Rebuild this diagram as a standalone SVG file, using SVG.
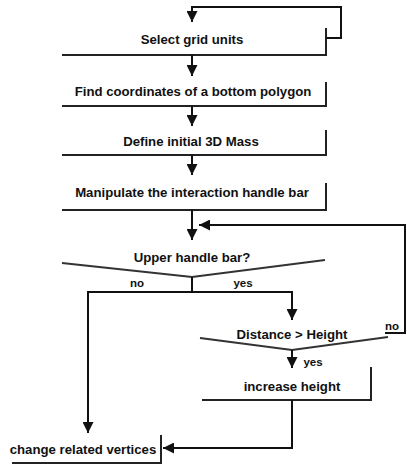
<svg xmlns="http://www.w3.org/2000/svg" width="407" height="467" viewBox="0 0 407 467">
<defs>
<marker id="ah" viewBox="0 0 10 10" refX="10" refY="5" markerWidth="5.5" markerHeight="5.5" orient="auto" markerUnits="strokeWidth">
<path d="M0,0 L10,5 L0,10 Z" fill="#111"/>
</marker>
<style>
text{font-family:"Liberation Sans",Arial,sans-serif;font-weight:bold;font-size:13.2px;fill:#111;text-anchor:middle}
.edge{fill:none;stroke:#222;stroke-width:2}
.v{fill:none;stroke:#333;stroke-width:2.2}
.c{fill:none;stroke:#111;stroke-width:2}
.lbl{font-size:11.5px}
</style>
</defs>
<rect width="407" height="467" fill="#fff"/>
<g id="n1"><path class="edge" d="M62,55 H326 V28"/><text x="192" y="44">Select grid units</text></g>
<g id="n2"><path class="edge" d="M62,106 H326 V82"/><text x="193" y="96">Find coordinates of a bottom polygon</text></g>
<g id="n3"><path class="edge" d="M62,155 H326 V130"/><text x="191" y="146">Define initial 3D Mass</text></g>
<g id="n4"><path class="edge" d="M62,210 H326 V183"/><text x="192" y="197">Manipulate the interaction handle bar</text></g>
<g id="d1"><path class="v" d="M62,263 L192,277 L325,260"/><text x="192" y="262">Upper handle bar?</text></g>
<g id="d2"><path class="v" d="M200,338 L292,350 L388,337"/><text x="292" y="339">Distance &gt; Height</text></g>
<g id="n5"><path class="edge" d="M202,400 H371 V367"/><text x="292" y="391">increase height</text></g>
<g id="n6"><path class="edge" d="M12,463 H161 V435"/><text x="83" y="454">change related vertices</text></g>
<g id="connectors">
<path class="c" d="M326,38 H341 V7 H192 V22" marker-end="url(#ah)"/>
<path class="c" d="M192,55 V76" marker-end="url(#ah)"/>
<path class="c" d="M192,106 V126" marker-end="url(#ah)"/>
<path class="c" d="M192,155 V175" marker-end="url(#ah)"/>
<path class="c" d="M192,210 V240" marker-end="url(#ah)"/>
<path class="c" d="M192,277 V292 M88,292 H292"/>
<path class="c" d="M88,291 V433" marker-end="url(#ah)"/>
<path class="c" d="M292,291 V320" marker-end="url(#ah)"/>
<path class="c" d="M385,333 H405 V225 H199" marker-end="url(#ah)"/>
<path class="c" d="M292,350 V368" marker-end="url(#ah)"/>
<path class="c" d="M292,400 V448 H163" marker-end="url(#ah)"/>
<text class="lbl" x="137" y="287">no</text>
<text class="lbl" x="243" y="287">yes</text>
<text class="lbl" x="392" y="330">no</text>
<text class="lbl" x="313" y="366">yes</text>
</g>
</svg>
